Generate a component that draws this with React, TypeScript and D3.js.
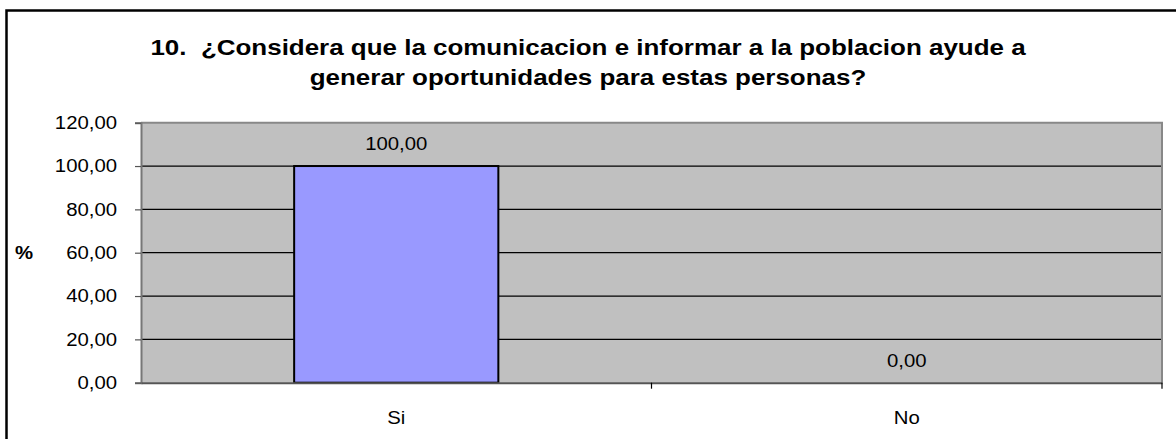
import React, { useEffect, useRef } from 'react';
import { select, scaleBand, scaleLinear, axisLeft, axisBottom } from 'd3';

const categories = ['Si', 'No'];
const values = [100, 0];
const yTicks = [0, 20, 40, 60, 80, 100, 120];
const titleLines = [
  '10.  ¿Considera que la comunicacion e informar a la poblacion ayude a',
  'generar oportunidades para estas personas?',
];

const W = 1176;
const H = 439;
const margin = { left: 141, right: 14, top: 122.7, bottom: 56.3 };
const font = 'Arial, "Liberation Sans", sans-serif';
// the reference text is a bit wider than Arial, so stretch it horizontally
const sx = 1.13;
const sxTitle = 1.18;

const fmt = (v: number) => v.toFixed(2).replace('.', ',');

const App = () => {
  const svgRef = useRef<SVGSVGElement>(null);

  useEffect(() => {
    const svg = select(svgRef.current);
    svg.selectAll('*').remove();

    const x0 = margin.left;
    const x1 = W - margin.right;
    const y0 = H - margin.bottom;
    const y1 = margin.top;

    const xScale = scaleBand<string>()
      .domain(categories)
      .range([x0, x1])
      .paddingInner(0.6)
      .paddingOuter(0.3);

    const yScale = scaleLinear().domain([0, 120]).range([y0, y1]);

    // outer frame
    svg.append('rect')
      .attr('x', 6.5).attr('y', 10.5)
      .attr('width', W + 10).attr('height', H + 10)
      .attr('fill', 'white')
      .attr('stroke', '#000')
      .attr('stroke-width', 2.5);

    // plot area
    svg.append('rect')
      .attr('x', x0).attr('y', y1)
      .attr('width', x1 - x0).attr('height', y0 - y1)
      .attr('fill', '#C0C0C0');

    // gridlines
    svg.append('g')
      .selectAll('line')
      .data(yTicks.filter(t => t > 0 && t < 120))
      .join('line')
      .attr('x1', x0).attr('x2', x1)
      .attr('y1', d => yScale(d)).attr('y2', d => yScale(d))
      .attr('stroke', '#000')
      .attr('stroke-width', 1.2);

    // top + right border of plot
    svg.append('path')
      .attr('d', `M${x0},${y1}H${x1}V${y0}`)
      .attr('fill', 'none')
      .attr('stroke', '#888')
      .attr('stroke-width', 2);

    // bars
    svg.append('g')
      .selectAll('rect')
      .data(values)
      .join('rect')
      .attr('x', (d, i) => xScale(categories[i]) as number)
      .attr('y', d => yScale(d))
      .attr('width', xScale.bandwidth())
      .attr('height', d => y0 - yScale(d))
      .attr('fill', '#9999FF')
      .attr('stroke', '#000')
      .attr('stroke-width', 2)
      .style('display', d => (d > 0 ? null : 'none'));

    // value labels
    svg.append('g')
      .selectAll('text')
      .data(values)
      .join('text')
      .attr('transform', (d, i) =>
        `translate(${(xScale(categories[i]) as number) + xScale.bandwidth() / 2},${yScale(d) - 16}) scale(${sx},1)`)
      .attr('text-anchor', 'middle')
      .attr('font-family', font)
      .attr('font-size', 18)
      .attr('fill', '#000')
      .text(d => fmt(d));

    // y axis
    const yAxis = axisLeft(yScale)
      .tickValues(yTicks)
      .tickSize(6)
      .tickPadding(18)
      .tickFormat(d => fmt(d as number));
    const gy = svg.append('g')
      .attr('transform', `translate(${x0},0)`)
      .call(yAxis);
    gy.select('.domain').attr('stroke', '#777').attr('stroke-width', 2);
    gy.selectAll('.tick line').attr('stroke', '#555').attr('stroke-width', 1.2);
    gy.selectAll('.tick text')
      .attr('x', -24 / sx)
      .attr('transform', `scale(${sx},1)`)
      .attr('font-family', font)
      .attr('font-size', 18)
      .attr('fill', '#000');

    // x axis
    const xAxis = axisBottom(xScale).tickSize(0).tickPadding(28.5);
    const gx = svg.append('g')
      .attr('transform', `translate(0,${y0})`)
      .call(xAxis);
    gx.select('.domain').attr('stroke', '#555').attr('stroke-width', 2);
    gx.selectAll('.tick text')
      .attr('transform', `scale(${sx},1)`)
      .attr('font-family', font)
      .attr('font-size', 18)
      .attr('fill', '#000');

    // category boundary ticks
    const step = xScale.step();
    const bounds = categories.map((c, i) => x0 + step * (i + 1));
    gx.append('g')
      .selectAll('line')
      .data(bounds)
      .join('line')
      .attr('x1', d => d).attr('x2', d => d)
      .attr('y1', 0).attr('y2', 6)
      .attr('stroke', '#000')
      .attr('stroke-width', 1.2);

    // y axis title
    svg.append('text')
      .attr('transform', `translate(24,259) scale(${sx},1)`)
      .attr('text-anchor', 'middle')
      .attr('font-family', font)
      .attr('font-size', 18)
      .attr('font-weight', 'bold')
      .text('%');

    // title
    svg.append('g')
      .selectAll('text')
      .data(titleLines)
      .join('text')
      .attr('transform', (d, i) => `translate(588,${55 + i * 30}) scale(${sxTitle},1)`)
      .attr('text-anchor', 'middle')
      .attr('font-family', font)
      .attr('font-size', 22)
      .attr('font-weight', 'bold')
      .style('white-space', 'pre')
      .text(d => d);
  }, []);

  return (
    <svg
      ref={svgRef}
      width={W}
      height={H}
      style={{ position: 'absolute', left: 0, top: 0, display: 'block' }}
    />
  );
};

export default App;
